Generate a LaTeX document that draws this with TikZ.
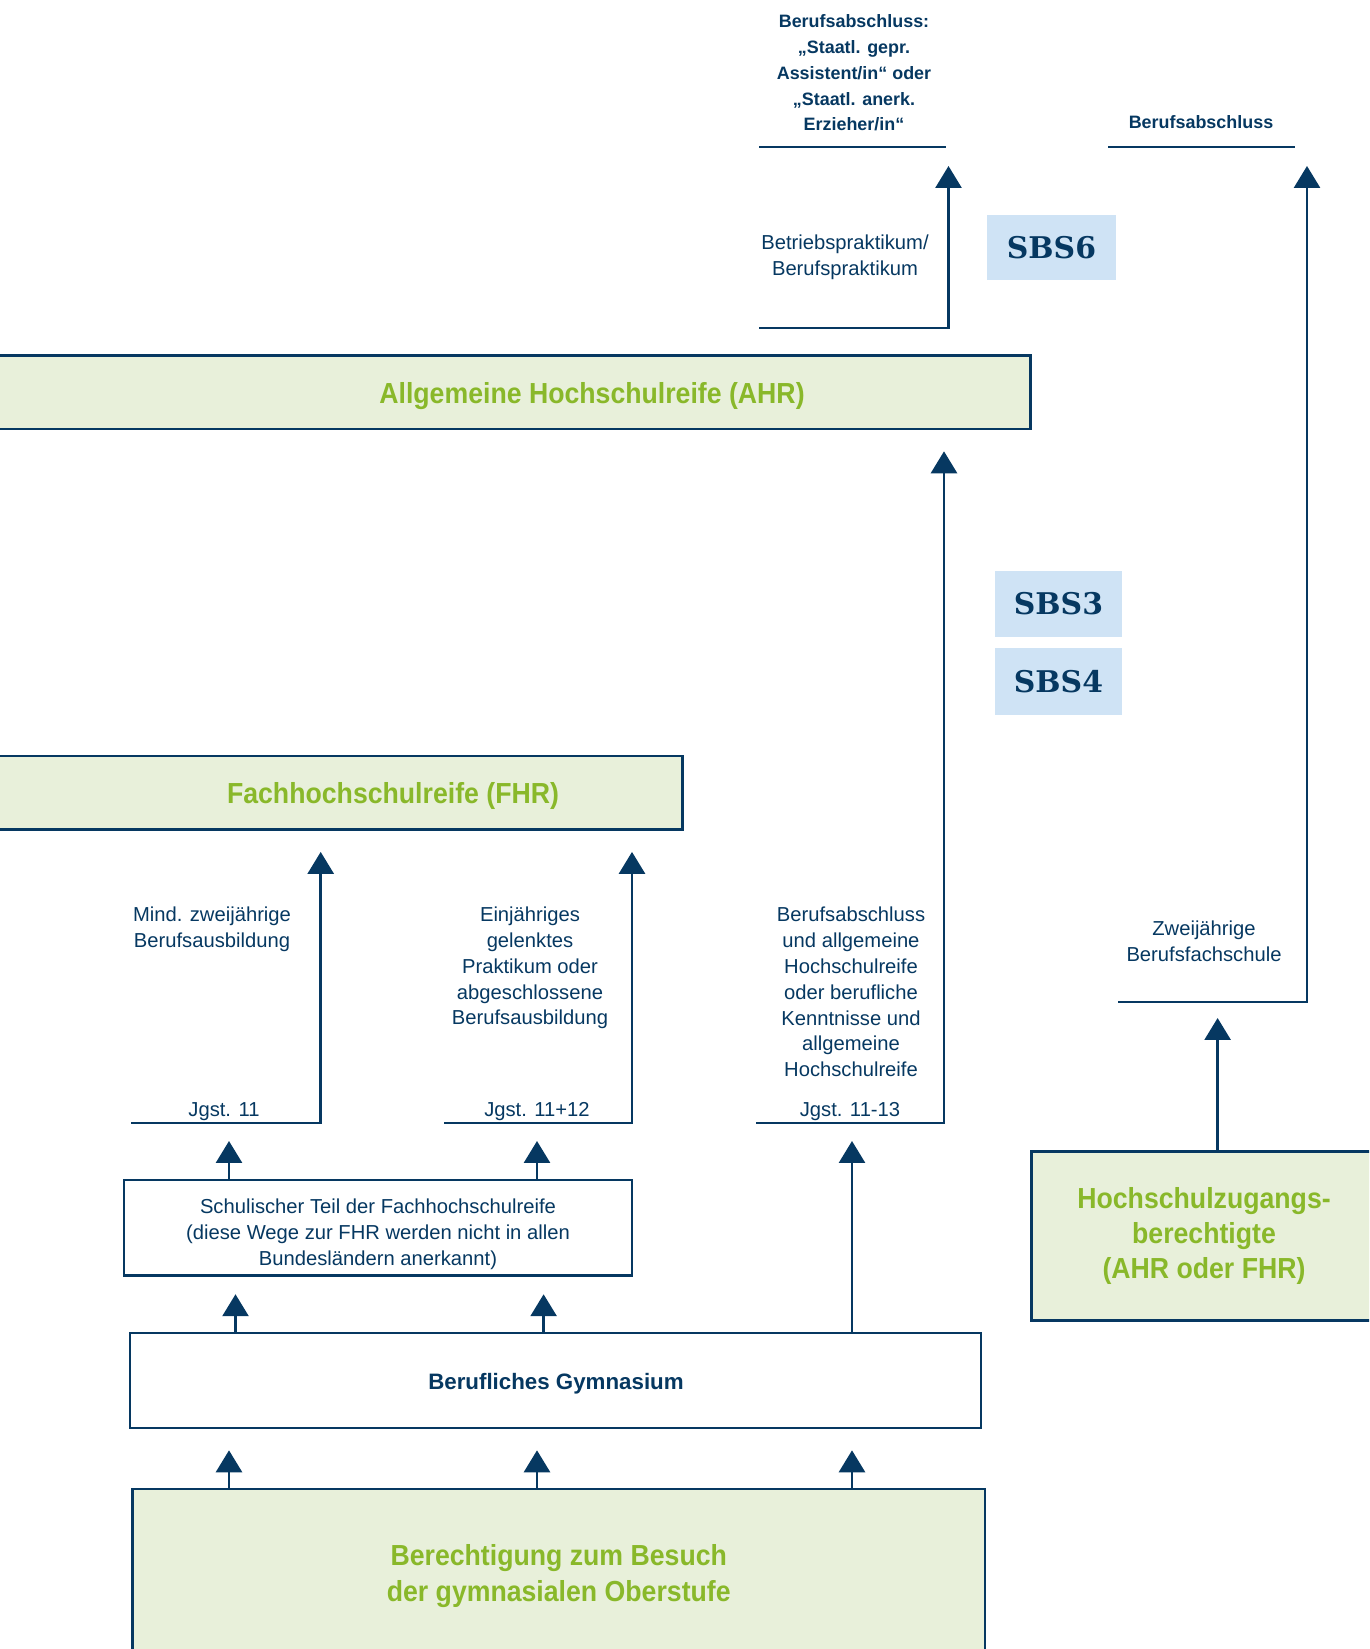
\documentclass[tikz,border=0pt]{standalone}
\usepackage{fontspec}
\setmainfont{Liberation Sans}
\newfontfamily\headfont{Liberation Sans}[FakeStretch=0.92]
\newfontfamily\sbsfont{DejaVu Serif}
\usetikzlibrary{arrows.meta}

\definecolor{navy}{RGB}{6,56,97}
\definecolor{goalgreen}{RGB}{137,184,42}
\definecolor{goalfill}{RGB}{232,240,218}
\definecolor{sbsblue}{RGB}{207,227,245}

\tikzset{
  goalbox/.style={draw=navy, fill=goalfill, line width=1.5pt, inner sep=0pt},
  goaltext/.style={text=goalgreen, font=\headfont\bfseries\fontsize{16.5}{20}\selectfont, align=center, inner sep=0pt},
  schoolbox/.style={draw=navy, fill=white, line width=1.5pt, inner sep=0pt},
  note/.style={text=navy, font=\fontsize{11.5}{14.7}\selectfont, align=center, inner sep=0pt},
  degree/.style={text=navy, font=\bfseries\fontsize{10.2}{14.7}\selectfont, align=center, inner sep=0pt},
  sbsbox/.style={fill=sbsblue, text=navy, font=\sbsfont\bfseries\fontsize{17}{20}\selectfont, inner sep=0pt},
  rule/.style={draw=navy, line width=1.5pt},
  flow/.style={draw=navy, line width=1.55pt, -{Triangle[width=14.8pt,length=12.5pt]}, shorten >=0.38cm}
}

\begin{document}
\begin{tikzpicture}[x=0.02cm, y=-0.02cm]
  \useasboundingbox (0,0) rectangle (1369,1649);
  \clip (0,0) rectangle (1369,1649);

  % Abschluesse oben
  \node[degree] (abschlA) at (854,73) {Berufsabschluss:\\„Staatl. gepr.\\Assistent/in“ oder\\„Staatl. anerk.\\Erzieher/in“};
  \coordinate (ulAa) at (759,147);
  \coordinate (ulAb) at (946,147);
  \draw[rule] (ulAa) -- (ulAb);
  \node[degree] (abschlB) at (1201,122) {Berufsabschluss};
  \coordinate (ulBa) at (1108,147);
  \coordinate (ulBb) at (1295,147);
  \draw[rule] (ulBa) -- (ulBb);

  % Praktikum
  \node[note] (prak) at (845,257) {Betriebspraktikum/\\Berufspraktikum};
  \coordinate (pkA) at (759,328);
  \coordinate (pkB) at (948.5,328);
  \draw[flow] (pkA) -- (pkB) -- (pkB |- ulAb);

  % SBS-Kennungen
  \node[sbsbox, minimum width=2.58cm, minimum height=1.31cm] (sbs6) at (1051.5,247.3) {SBS6};
  \node[sbsbox, minimum width=2.54cm, minimum height=1.32cm] (sbs3) at (1058.5,604) {SBS3};
  \node[sbsbox, minimum width=2.54cm, minimum height=1.34cm] (sbs4) at (1058.5,681.5) {SBS4};

  % AHR und FHR
  \node[goalbox, minimum width=21.01cm, minimum height=1.472cm] (ahr) at (505.25,392.2) {};
  \node[goaltext] (ahrtext) at (592,396) {Allgemeine Hochschulreife (AHR)};
  \node[goalbox, minimum width=14.048cm, minimum height=1.472cm] (fhr) at (331.2,792.8) {};
  \node[goaltext] (fhrtext) at (393,796) {Fachhochschulreife (FHR)};

  % Zweijaehrige Berufsfachschule
  \node[note] (zwei) at (1204,941) {Zweijährige\\Berufsfachschule};
  \coordinate (bfA) at (1118,1002);
  \coordinate (bfB) at (1307,1002);
  \draw[flow] (bfA) -- (bfB) -- (bfB |- ulBb);

  % Wege ueber die Jahrgangsstufen
  \node[note] (mind) at (212,929) {Mind. zweijährige\\Berufsausbildung};
  \node[note] (ein) at (530,968) {Einjähriges\\gelenktes\\Praktikum oder\\abgeschlossene\\Berufsausbildung};
  \node[note] (bakh) at (851,992) {Berufsabschluss\\und allgemeine\\Hochschulreife\\oder berufliche\\Kenntnisse und\\allgemeine\\Hochschulreife};
  \node[note] (jgA) at (224,1111.5) {Jgst. 11};
  \node[note] (jgB) at (537,1111.5) {Jgst. 11+12};
  \node[note] (jgC) at (850,1111.5) {Jgst. 11-13};
  \coordinate (jAa) at (131,1123);
  \coordinate (jAb) at (320.7,1123);
  \coordinate (jBa) at (444,1123);
  \coordinate (jBb) at (632,1123);
  \coordinate (jCa) at (756,1123);
  \coordinate (jCb) at (944,1123);
  \draw[flow, shorten >=0.42cm] (jAa) -- (jAb) -- (jAb |- fhr.south);
  \draw[flow, shorten >=0.42cm] (jBa) -- (jBb) -- (jBb |- fhr.south);
  \draw[flow, shorten >=0.42cm] (jCa) -- (jCb) -- (jCb |- ahr.south);

  % Schulischer Teil und Berufliches Gymnasium
  \node[schoolbox, minimum width=10.16cm, minimum height=1.91cm] (schul) at (378,1227.7) {};
  \node[note] (schultext) at (378,1234) {Schulischer Teil der Fachhochschulreife\\(diese Wege zur FHR werden nicht in allen\\Bundesländern anerkannt)};
  \node[schoolbox, minimum width=17.02cm, minimum height=1.9cm] (bg) at (555.5,1380.5) {};
  \node[note, font=\bfseries\fontsize{12.7}{15}\selectfont] (bgtext) at (556,1384) {Berufliches Gymnasium};
  \draw[flow, shorten >=0.36cm] (229,0 |- schul.north) -- (229,0 |- jAa);
  \draw[flow, shorten >=0.36cm] (537,0 |- schul.north) -- (537,0 |- jBa);
  \draw[flow, shorten >=0.36cm] (852,0 |- bg.north) -- (852,0 |- jCa);
  \draw[flow, shorten >=0.35cm] (235.5,0 |- bg.north) -- (235.5,0 |- schul.south);
  \draw[flow, shorten >=0.35cm] (543.6,0 |- bg.north) -- (543.6,0 |- schul.south);

  % Zugangsvoraussetzungen
  \node[goalbox, goaltext, minimum width=17.05cm, minimum height=3.48cm] (bes) at (558.75,1576)
    {Berechtigung zum Besuch\\der gymnasialen Oberstufe};
  \node[goalbox, goaltext, minimum width=6.9cm, minimum height=3.386cm] (hzb) at (1204,1236)
    {Hochschulzugangs-\\berechtigte\\(AHR oder FHR)};
  \foreach \xx in {229,537,852}
    \draw[flow, shorten >=0.42cm] (\xx,0 |- bes.north) -- (\xx,0 |- bg.south);
  \draw[flow, shorten >=0.32cm] (1217.6,0 |- hzb.north) -- (1217.6,0 |- bfA);
\end{tikzpicture}
\end{document}
